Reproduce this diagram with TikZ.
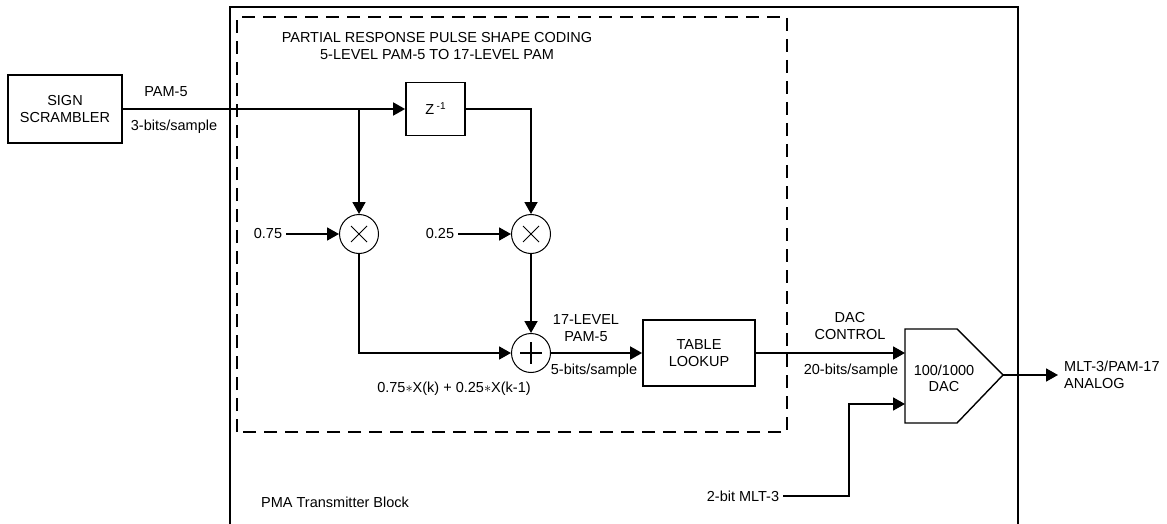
\documentclass[tikz,border=0pt]{standalone}
\usepackage{fontspec}
\setmainfont{Liberation Sans}
\usetikzlibrary{arrows.meta}
\begin{document}
\begin{tikzpicture}[x=1pt,y=-1pt,
  every node/.style={font=\fontsize{14.5}{16.5}\selectfont, inner sep=1pt, align=center},
  blk/.style={draw, line width=1.8pt, inner sep=0pt},
  opc/.style={draw, circle, line width=1pt, minimum size=39pt, inner sep=0pt},
  wire/.style={line width=1.8pt},
  arr/.style={wire, -{Triangle[length=12pt,width=13pt]}},
  frame/.style={line width=1.8pt},
  dashframe/.style={line width=1.8pt, dash pattern=on 13pt off 8pt},
  sym/.style={line width=0.9pt}
]
\useasboundingbox (0,0) rectangle (1167,524);

% frames
\draw[frame] (230,524) -- (230,7) -- (1018,7) -- (1018,524);
\draw[dashframe] (237,432) -- (237,17) -- (787,17) -- (787,432) -- cycle;

% texts
\node (title) at (437,46) {PARTIAL RESPONSE PULSE SHAPE CODING\\5-LEVEL PAM-5 TO 17-LEVEL PAM};
\node[anchor=west] (pma) at (260,502) {PMA Transmitter Block};

% blocks
\node[blk, minimum width=114pt, minimum height=68pt] (scr) at (65,109) {SIGN\\SCRAMBLER};
\node[blk, minimum width=59pt, minimum height=53pt] (zd) at (435.5,109) {Z\,\raisebox{5pt}{\fontsize{10}{10}\selectfont -1}};
\node[opc] (m1) at (359,234) {};
\node[opc] (m2) at (531,234) {};
\node[opc] (add) at (531,353) {};
\node[blk, minimum width=112pt, minimum height=66pt] (tbl) at (699,353) {TABLE\\LOOKUP};

% symbols in circles
\draw[sym] (m1) ++(-8,-8) -- ++(16,16) (m1) ++(-8,8) -- ++(16,-16);
\draw[sym] (m2) ++(-8,-8) -- ++(16,16) (m2) ++(-8,8) -- ++(16,-16);
\draw[line width=1.8pt] (add) ++(-11,0) -- ++(22,0) (add) ++(0,-11) -- ++(0,22);

% DAC
\draw[line width=1.4pt] (905,329) -- (957,329) -- (1003,375) -- (957,423) -- (905,423) -- cycle;
\coordinate (dacin1) at (905,353);
\coordinate (dacin2) at (905,404);
\coordinate (dacout) at (1003,375);
\node (dac) at (944,378.5) {100/1000\\DAC};

% labels
\node (lpam) at (166,92) {PAM-5};
\node (lbits) at (174,127) {3-bits/sample};
\node (l075) at (268,234) {0.75};
\node (l025) at (440,234) {0.25};
\node (l17) at (586,328) {17-LEVEL\\PAM-5};
\node (l5b) at (594,371) {5-bits/sample};
\node (lform) at (454,389) {0.75$\ast$X(k) + 0.25$\ast$X(k-1)};
\node (ldac) at (850,326) {DAC\\CONTROL};
\node (l20b) at (851,371) {20-bits/sample};
\node (lmlt) at (743,496) {2-bit MLT-3};
\node[anchor=west, align=left] (lout) at (1063,375) {MLT-3/PAM-17\\ANALOG};
\coordinate (outend) at (1058,375);
\coordinate (split) at (359,109);

% connectors
\draw[arr] (scr.east) -- (zd.west);
\draw[arr] (split) -- (m1.north);
\draw[arr] (zd.east) -| (m2.north);
\draw[arr] (l075.east) ++(3,0) -- (m1.west);
\draw[arr] (l025.east) ++(3,0) -- (m2.west);
\draw[arr] (m1.south) |- (add.west);
\draw[arr] (m2.south) -- (add.north);
\draw[arr] (add.east) -- (tbl.west);
\draw[arr] (tbl.east) -- (dacin1);
\draw[arr] (lmlt.east) ++(3,0) -- (849,496) |- (dacin2);
\draw[arr] (dacout) -- (outend);
\end{tikzpicture}
\end{document}
